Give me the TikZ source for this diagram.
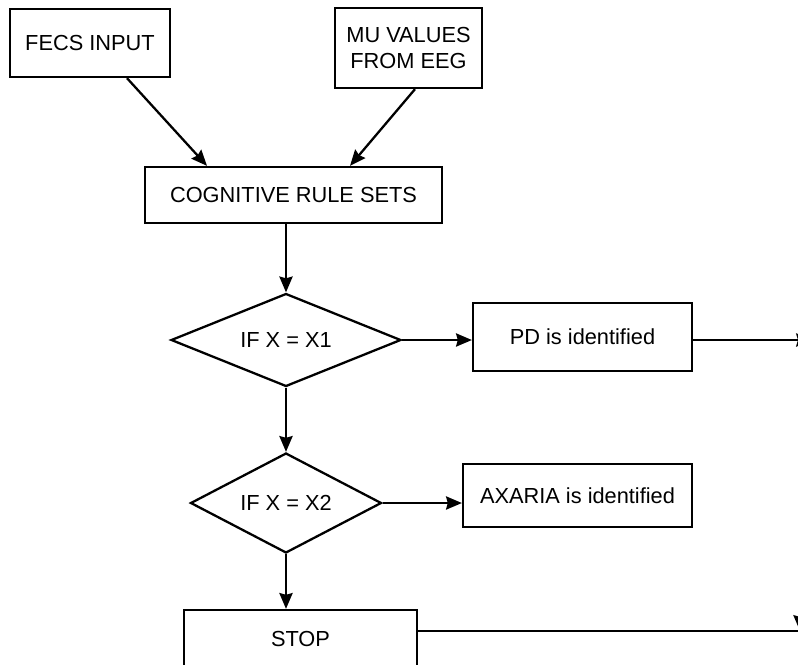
\documentclass[tikz,border=0pt]{standalone}
\usepackage{fontspec}
\setmainfont{Liberation Sans}
\usepackage{tikz}
\usetikzlibrary{shapes.geometric, arrows.meta, positioning, calc}

\begin{document}
\begin{tikzpicture}[
    x=0.02cm, y=-0.02cm,
    font=\fontsize{12.4}{14.5}\selectfont,
    box/.style={rectangle, draw=black, line width=1.3pt, inner sep=0pt, align=center},
    decision/.style={diamond, draw=black, line width=1.3pt, inner sep=0pt, align=center},
    arrow/.style={-{Stealth[length=9pt, width=7.5pt, inset=1pt]}, line width=1.3pt},
    line/.style={line width=1.3pt}
]
\useasboundingbox (0,0) rectangle (798,664);

% Inputs
\node[box, minimum width=3.2cm, minimum height=1.36cm] (fecs) at (90,43) {FECS INPUT};
\node[box, minimum width=2.94cm, minimum height=1.6cm] (mu) at (408.5,48) {MU VALUES\\FROM EEG};

% Rule sets
\node[box, minimum width=5.94cm, minimum height=1.12cm] (rules) at (293.5,195) {COGNITIVE RULE SETS};

% Decisions
\node[decision, aspect=2.47, minimum width=4.6cm, minimum height=1.86cm] (ifone) at (286,340) {IF X = X1};
\node[decision, aspect=1.91, minimum width=3.82cm, minimum height=2cm] (iftwo) at (286,503) {IF X = X2};

% Results
\node[box, minimum width=4.38cm, minimum height=1.36cm] (pd) at (582.5,337) {PD is identified};
\node[box, minimum width=4.58cm, minimum height=1.26cm] (axaria) at (577.5,495.5) {AXARIA is identified};
\node[box, minimum width=4.66cm, minimum height=1.16cm] (stop) at (300.5,639) {STOP};

% Off-page ends
\coordinate (pdout) at (812,340);
\coordinate (stopout) at (820,631);
\coordinate (downin) at (800,560);
\coordinate (downend) at (800,631);

% Arrows into rule sets
\draw[arrow] ([xshift=0.74cm]fecs.south) -- ([xshift=-1.73cm]rules.north);
\draw[arrow] ([xshift=0.13cm]mu.south) -- ([xshift=1.13cm]rules.north);

% Main flow
\draw[arrow] (rules.south -| ifone.north) -- (ifone.north);
\draw[arrow] (ifone.south) -- (iftwo.north);
\draw[arrow] (iftwo.south) -- (iftwo.south |- stop.north);

% Branches
\draw[arrow] (ifone.east) -- (ifone.east -| pd.west);
\draw[arrow] (iftwo.east) -- (iftwo.east -| axaria.west);

% Right side
\draw[arrow] (pd.east |- pdout) -- (pdout);
\draw[line] (stop.east |- stopout) -- (stopout);
\draw[arrow] (downin) -- (downend);

\end{tikzpicture}
\end{document}
